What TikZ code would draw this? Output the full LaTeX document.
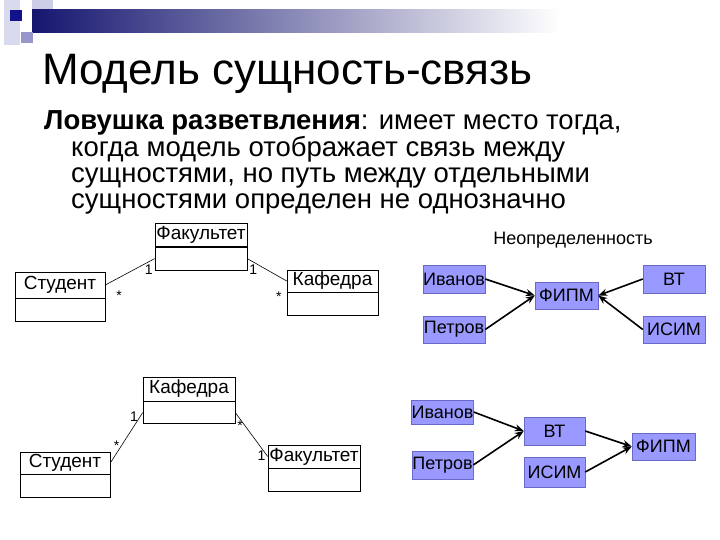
\documentclass[tikz,border=0pt]{standalone}
\usepackage{fontspec}
\setmainfont{Liberation Sans}
\usepackage{xcolor}
\usetikzlibrary{arrows.meta, positioning}

\definecolor{lavbox}{RGB}{153,153,255}
\definecolor{lavedge}{RGB}{105,105,200}
\definecolor{navybar}{RGB}{22,22,112}
\definecolor{paleblue}{RGB}{218,218,238}
\definecolor{midblue}{RGB}{150,150,205}

\begin{document}
\begin{tikzpicture}[
    x=1pt, y=-1pt,
    title/.style={anchor=base west, inner sep=0pt, font=\fontsize{44}{50}\selectfont},
    bodytext/.style={anchor=base west, inner sep=0pt, font=\fontsize{27.5}{30}\selectfont},
    clshead/.style={draw, fill=white, line width=0.6pt, minimum width=92pt, minimum height=23pt, inner sep=0pt, font=\fontsize{19}{22}\selectfont},
    clsbody/.style={draw, fill=white, line width=0.6pt, minimum width=92pt, minimum height=23pt, inner sep=0pt},
    entity/.style={draw=lavedge, fill=lavbox, line width=0.5pt, minimum width=62pt, minimum height=27pt, inner sep=0pt, font=\fontsize{18}{21}\selectfont},
    assoc/.style={line width=0.6pt},
    mult/.style={inner sep=1pt, font=\fontsize{14}{16}\selectfont},
    flow/.style={-{Stealth[length=9pt, width=7pt]}, line width=1.6pt}
]
\useasboundingbox (0,0) rectangle (720,540);

% header decoration
\fill[paleblue] (4,0) rectangle (20,45);
\fill[paleblue!80!midblue] (32,0) rectangle (53,22);
\shade[left color=navybar, right color=white] (32,10) rectangle (560,33);
\fill[navybar!80!blue] (10,10) rectangle (22,21);
\fill[midblue] (21,32) rectangle (33,43);

% title and text
\node[title] (head) at (42,85) {Модель сущность-связь};
\node[bodytext] (txta) at (44,130) {\textbf{Ловушка разветвления}: имеет место тогда,};
\node[bodytext] (txtb) at (71,157) {когда модель отображает связь между};
\node[bodytext] (txtc) at (71,183) {сущностями, но путь между отдельными};
\node[bodytext] (txtd) at (71,209) {сущностями определен не однозначно};

% upper class diagram
\node[clshead] (fac1) at (201,235) {Факультет};
\node[clsbody, below=0pt of fac1] (fac1b) {};
\node[clshead, minimum width=90pt, minimum height=26pt] (stud1) at (60,285) {Студент};
\node[clsbody, minimum width=90pt, below=0pt of stud1] (stud1b) {};
\node[clshead, minimum width=91pt, minimum height=22pt] (kaf1) at (332.5,281) {Кафедра};
\node[clsbody, minimum width=91pt, below=0pt of kaf1] (kaf1b) {};

\draw[assoc] (stud1.east) -- node[mult, pos=0.28, below=12pt] {*} node[mult, pos=0.88, below=2pt] {1} (fac1b.west);
\draw[assoc] (fac1b.east) -- node[mult, pos=0.15, below=2pt] {1} node[mult, pos=0.8, below=14pt] {*} (kaf1.west);

% upper right: uncertainty
\node[font=\fontsize{18}{21}\selectfont] (unc) at (573,240) {Неопределенность};
\node[entity, minimum height=28pt] (iv1) at (454,279) {Иванов};
\node[entity] (pe1) at (454,329.5) {Петров};
\node[entity, minimum width=63pt] (fi1) at (566.5,295.5) {ФИПМ};
\node[entity, minimum height=28pt] (vt1) at (674,279) {ВТ};
\node[entity] (is1) at (674,329.5) {ИСИМ};

\draw[flow] (iv1.east) -- (fi1.west);
\draw[flow] (pe1.east) -- (fi1.west);
\draw[flow] (vt1.west) -- (fi1.east);
\draw[flow] (is1.west) -- (fi1.east);

% lower class diagram
\node[clshead, minimum height=24pt] (kaf2) at (189,389) {Кафедра};
\node[clsbody, minimum height=22pt, below=0pt of kaf2] (kaf2b) {};
\node[clshead, minimum width=90pt, minimum height=22pt] (stud2) at (65,463) {Студент};
\node[clsbody, minimum width=90pt, below=0pt of stud2] (stud2b) {};
\node[clshead] (fac2) at (314,456.5) {Факультет};
\node[clsbody, below=0pt of fac2] (fac2b) {};

\draw[assoc] (stud2.east) -- node[mult, pos=0.35, left=1pt] {*} node[mult, pos=0.92, left=1pt] {1} (kaf2b.west);
\draw[assoc] (kaf2b.east) -- node[mult, pos=0.3, left=1pt] {*} node[mult, pos=0.97, left=0pt] {1} (fac2.west);

% lower right: resolved
\node[entity, minimum width=61pt, minimum height=24pt] (iv2) at (442.5,412) {Иванов};
\node[entity, minimum width=61pt, minimum height=28pt] (pe2) at (442.5,465) {Петров};
\node[entity, minimum width=61pt, minimum height=28pt] (vt2) at (554.5,431) {ВТ};
\node[entity, minimum width=61pt, minimum height=30pt] (is2) at (554.5,472) {ИСИМ};
\node[entity, minimum width=63pt] (fi2) at (663.5,446.5) {ФИПМ};

\draw[flow] (iv2.east) -- (vt2.west);
\draw[flow] (pe2.east) -- (vt2.west);
\draw[flow] (vt2.east) -- (fi2.west);
\draw[flow] (is2.east) -- (fi2.west);
\end{tikzpicture}
\end{document}
